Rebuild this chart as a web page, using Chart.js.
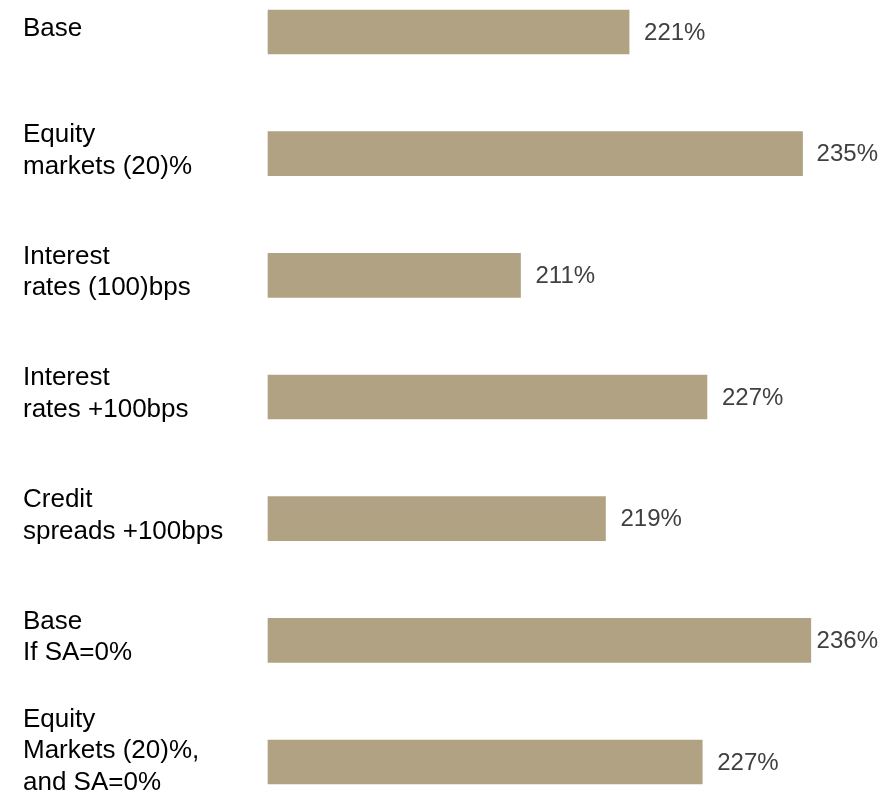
<!DOCTYPE html>
<html>
<head>
<meta charset="utf-8">
<script src="https://cdn.jsdelivr.net/npm/chart.js@4/dist/chart.umd.min.js"></script>
<style>
  html, body { margin: 0; padding: 0; background: #ffffff; }
  #wrap { width: 881px; height: 795px; position: relative; }
</style>
</head>
<body>
<div id="wrap"><canvas id="c" width="881" height="795"></canvas></div>
<script>
// Categories (multi-line labels)
const categories = [
  ["Base"],
  ["Equity", "markets (20)%"],
  ["Interest", "rates (100)bps"],
  ["Interest", "rates +100bps"],
  ["Credit", "spreads +100bps"],
  ["Base", "If SA=0%"],
  ["Equity", "Markets (20)%,", "and SA=0%"]
];
// Solvency ratio values (%)
const ratios = [220.6, 235.3, 211.4, 227.2, 218.6, 236.0, 226.8];
// Displayed value labels
const valueLabels = ["221%", "235%", "211%", "227%", "219%", "236%", "227%"];
// Axis range
const axisMin = 190;
const axisMax = 240;

const FONT = '"Liberation Sans", Arial, sans-serif';

const labelPlugin = {
  id: 'labelTweaks',
  beforeDraw(chart) {
    // nudge category labels upward a little (text blocks sit slightly above bar centres)
    const s = chart.scales.y;
    const items = s.getLabelItems(chart.chartArea);
    if (!items._nudged) {
      items.forEach((it) => {
        const n = Array.isArray(it.label) ? it.label.length : 1;
        it.options.translation[1] += (n >= 3 ? -11 : -3);
      });
      items._nudged = true;
    }
  },
  afterDatasetsDraw(chart) {
    const ctx = chart.ctx;
    const meta = chart.getDatasetMeta(0);
    ctx.save();
    ctx.font = '24px ' + FONT;
    ctx.fillStyle = '#404040';
    ctx.textBaseline = 'middle';
    ctx.textAlign = 'left';
    meta.data.forEach((bar, i) => {
      const txt = valueLabels[i];
      const w = ctx.measureText(txt).width;
      let x = bar.x + 15;
      const maxX = chart.width - w - 3;
      if (x > maxX) x = Math.max(bar.x + 5, maxX);
      ctx.fillText(txt, x, bar.y + 1);
    });
    ctx.restore();
  }
};

new Chart(document.getElementById('c'), {
  type: 'bar',
  data: {
    labels: categories,
    datasets: [{
      data: ratios,
      base: axisMin,
      backgroundColor: '#b1a283',
      borderWidth: 0,
      barThickness: 44,
      clip: false
    }]
  },
  options: {
    indexAxis: 'y',
    responsive: false,
    animation: false,
    layout: { padding: { left: 23, right: 23, top: 32, bottom: 33 } },
    plugins: {
      legend: { display: false },
      tooltip: { enabled: false }
    },
    scales: {
      x: {
        display: false,
        min: axisMin,
        max: axisMax
      },
      y: {
        offset: false,
        border: { display: false },
        grid: { display: false, drawTicks: false },
        ticks: {
          crossAlign: 'far',
          color: '#000000',
          padding: 0,
          autoSkip: false,
          font: { family: FONT, size: 26, lineHeight: 1.21 }
        },
        afterFit(axis) {
          axis.width = 245;
          axis.paddingTop = 0;
          axis.paddingBottom = 0;
        }
      }
    }
  },
  plugins: [labelPlugin]
});
</script>
</body>
</html>
